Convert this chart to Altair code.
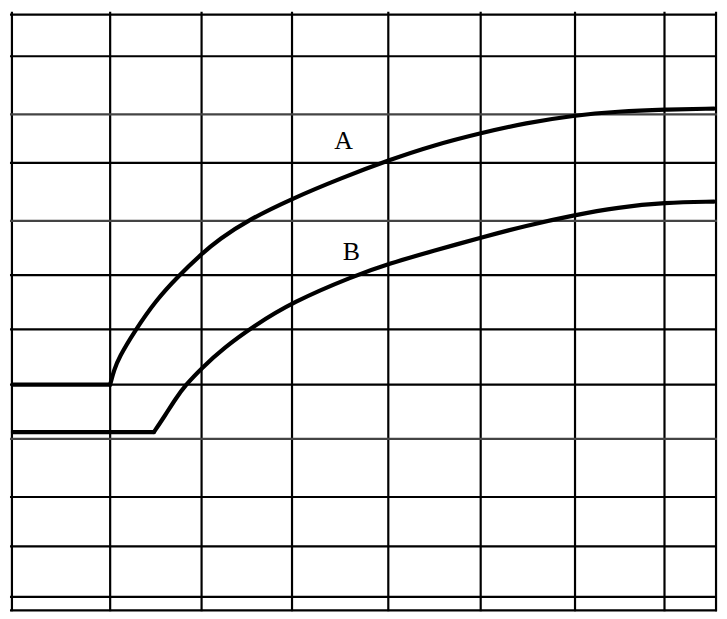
import altair as alt
import pandas as pd

# Grid line positions (reference units; x to the right, y upward)
grid_x = [2, 103, 197, 290, 389, 484, 581, 673, 726]
grid_y = [616, 573, 513, 463, 403, 347, 291, 234, 178, 118, 67, 15, 1]
grid_y_gray = [513, 403, 178]

# Curve A: flat part then rising part
a_flat_x = [3, 103]
a_flat_y = [234, 234]
a_x = [103, 107, 112, 128, 150, 173, 197, 215, 245, 290, 340, 390, 435, 485, 530, 580, 625, 673, 724]
a_y = [234, 249, 262, 289, 321, 346, 369, 384, 404, 426, 447, 466, 481, 494, 504, 512, 516, 518, 519]

# Curve B: flat part then rising part
b_flat_x = [3, 148]
b_flat_y = [185, 185]
b_x = [148, 160, 170, 180, 197, 220, 250, 290, 353, 390, 435, 485, 530, 580, 625, 673, 724]
b_y = [185, 203, 219, 233, 251, 272, 294, 319, 346, 359, 372, 386, 398, 409, 417, 422, 423]

# Labels
labels = ["A", "B"]
label_x = [343, 351]
label_y = [485, 371]

W, H = 711, 603
xs = alt.Scale(domain=[0, 727], range=[0, W], nice=False, zero=False)
ys = alt.Scale(domain=[0, 619], range=[H, 0], nice=False, zero=False)

vdf = pd.DataFrame({"x": grid_x})
hdf = pd.DataFrame({"y": grid_y, "gray": [y in grid_y_gray for y in grid_y]})


def seg(name, xv, yv):
    return pd.DataFrame({"x": xv, "y": yv, "s": name})


curves = pd.concat([
    seg("A0", a_flat_x, a_flat_y),
    seg("A1", a_x, a_y),
    seg("B0", b_flat_x, b_flat_y),
    seg("B1", b_x, b_y),
])
ldf = pd.DataFrame({"t": labels, "x": label_x, "y": label_y})

vlines = alt.Chart(vdf).mark_rule(color="black", strokeWidth=2.2).encode(
    x=alt.X("x:Q", scale=xs, axis=None)
)
hlines = alt.Chart(hdf).mark_rule(strokeWidth=2.2).encode(
    y=alt.Y("y:Q", scale=ys, axis=None),
    color=alt.Color("gray:N", scale=alt.Scale(domain=[False, True], range=["#000000", "#444444"]), legend=None),
)
lines = alt.Chart(curves).mark_line(color="black", strokeWidth=4.2, strokeJoin="round",
                                    strokeCap="round", interpolate="basis").encode(
    x=alt.X("x:Q", scale=xs, axis=None),
    y=alt.Y("y:Q", scale=ys, axis=None),
    detail="s:N",
)
text = alt.Chart(ldf).mark_text(font="Liberation Serif", fontSize=26, color="black",
                                align="center", baseline="middle").encode(
    x=alt.X("x:Q", scale=xs, axis=None),
    y=alt.Y("y:Q", scale=ys, axis=None),
    text="t:N",
)

chart = alt.layer(vlines, hlines, lines, text).properties(
    width=W, height=H, padding=0, background="white"
).configure_view(stroke=None)

chart.save("out.html", embed_options={"renderer": "svg", "actions": False})
